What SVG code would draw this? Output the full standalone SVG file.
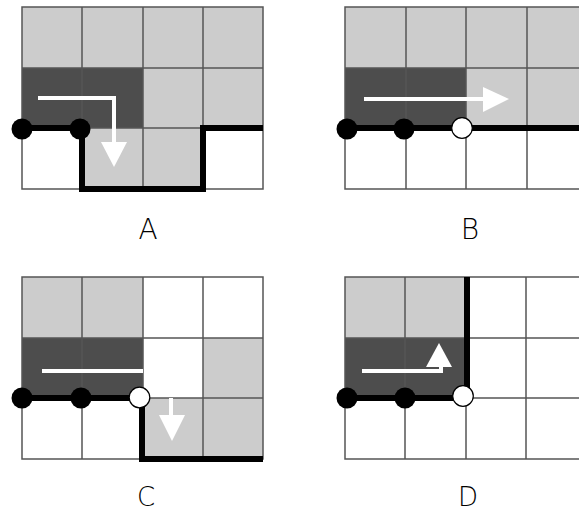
<svg xmlns="http://www.w3.org/2000/svg" width="579" height="512" viewBox="0 0 579 512">
<defs>
<style>
.lt{fill:#cccccc}
.dk{fill:#4d4d4d}
.wh{fill:#ffffff}
.grid{fill:none;stroke:#555555;stroke-width:1.5}
.thick{fill:none;stroke:#000000;stroke-width:6;stroke-linejoin:miter;stroke-linecap:butt}
.bdot{fill:#000000}
.wdot{fill:#ffffff;stroke:#000000;stroke-width:1.2}
.arr{fill:none;stroke:#ffffff;stroke-width:4}
.head{fill:#ffffff}
.lbl{font-family:"DejaVu Sans","Liberation Sans",sans-serif;font-size:28px;font-weight:200;fill:#000000;text-anchor:middle}
.lbl2{font-family:"DejaVu Sans","Liberation Sans",sans-serif;font-size:26px;font-weight:200;fill:#000000;text-anchor:middle}
</style>
</defs>
<rect width="579" height="512" fill="#ffffff"/>

<g id="panelA">
  <rect class="lt" x="22" y="7" width="241" height="61"/>
  <rect class="dk" x="22" y="68" width="121" height="60"/>
  <rect class="lt" x="143" y="68" width="120" height="60"/>
  <rect class="wh" x="22" y="128" width="60" height="61"/>
  <rect class="lt" x="82" y="128" width="121" height="61"/>
  <rect class="wh" x="203" y="128" width="60" height="61"/>
  <path class="grid" d="M22,7H263V189H22Z M82,7V189 M143,7V189 M203,7V189 M22,68H263 M22,128H263"/>
  <path class="thick" d="M22,128H82V189H203V128H263"/>
  <circle class="bdot" cx="22" cy="129" r="10.5"/>
  <circle class="bdot" cx="80" cy="129" r="10.5"/>
  <path class="arr" d="M38,98H114V143"/>
  <polygon class="head" points="101,142 127,142 114,167"/>
  <text class="lbl" x="148" y="239">A</text>
</g>

<g id="panelB">
  <rect class="lt" x="345" y="7" width="242" height="61"/>
  <rect class="dk" x="345" y="68" width="121" height="60"/>
  <rect class="lt" x="466" y="68" width="121" height="60"/>
  <rect class="wh" x="345" y="128" width="242" height="61"/>
  <path class="grid" d="M345,7H587V189H345Z M406,7V189 M466,7V189 M527,7V189 M345,68H587 M345,128H587"/>
  <path class="thick" d="M345,128H587"/>
  <circle class="bdot" cx="347" cy="129" r="10.5"/>
  <circle class="bdot" cx="404" cy="129" r="10.5"/>
  <circle class="wdot" cx="462" cy="128" r="10.3"/>
  <path class="arr" d="M364,99H484"/>
  <polygon class="head" points="483,87 483,112 509,99"/>
  <text class="lbl" x="470" y="239">B</text>
</g>

<g id="panelC">
  <rect class="lt" x="22" y="277" width="121" height="61"/>
  <rect class="wh" x="143" y="277" width="120" height="61"/>
  <rect class="dk" x="22" y="338" width="121" height="60"/>
  <rect class="wh" x="143" y="338" width="60" height="60"/>
  <rect class="lt" x="203" y="338" width="60" height="60"/>
  <rect class="wh" x="22" y="398" width="121" height="61"/>
  <rect class="lt" x="143" y="398" width="120" height="61"/>
  <path class="grid" d="M22,277H263V459H22Z M82,277V459 M143,277V459 M203,277V459 M22,338H263 M22,398H263"/>
  <path class="thick" d="M22,398H142V459H263"/>
  <circle class="bdot" cx="22" cy="398" r="10.5"/>
  <circle class="bdot" cx="81" cy="398" r="10.5"/>
  <circle class="wdot" cx="139.5" cy="397.5" r="10.3"/>
  <path class="arr" d="M42,371H143"/>
  <path class="arr" d="M171,398V416"/>
  <polygon class="head" points="159,415 185,415 172,441"/>
  <text class="lbl2" x="146" y="505.5">C</text>
</g>

<g id="panelD">
  <rect class="lt" x="345" y="277" width="121" height="61"/>
  <rect class="dk" x="345" y="338" width="121" height="60"/>
  <rect class="wh" x="466" y="277" width="121" height="182"/>
  <rect class="wh" x="345" y="398" width="121" height="61"/>
  <path class="grid" d="M345,277H587V459H345Z M405,277V459 M466,277V459 M526,277V459 M345,338H587 M345,398H587"/>
  <path class="thick" d="M345,398H467V277"/>
  <circle class="bdot" cx="347" cy="398" r="10.5"/>
  <circle class="bdot" cx="405" cy="398" r="10.5"/>
  <circle class="wdot" cx="463" cy="396" r="10.3"/>
  <path class="arr" d="M362,371H441V366"/>
  <polygon class="head" points="426,367 452,367 439,343"/>
  <text class="lbl2" x="468" y="505.5">D</text>
</g>
</svg>
